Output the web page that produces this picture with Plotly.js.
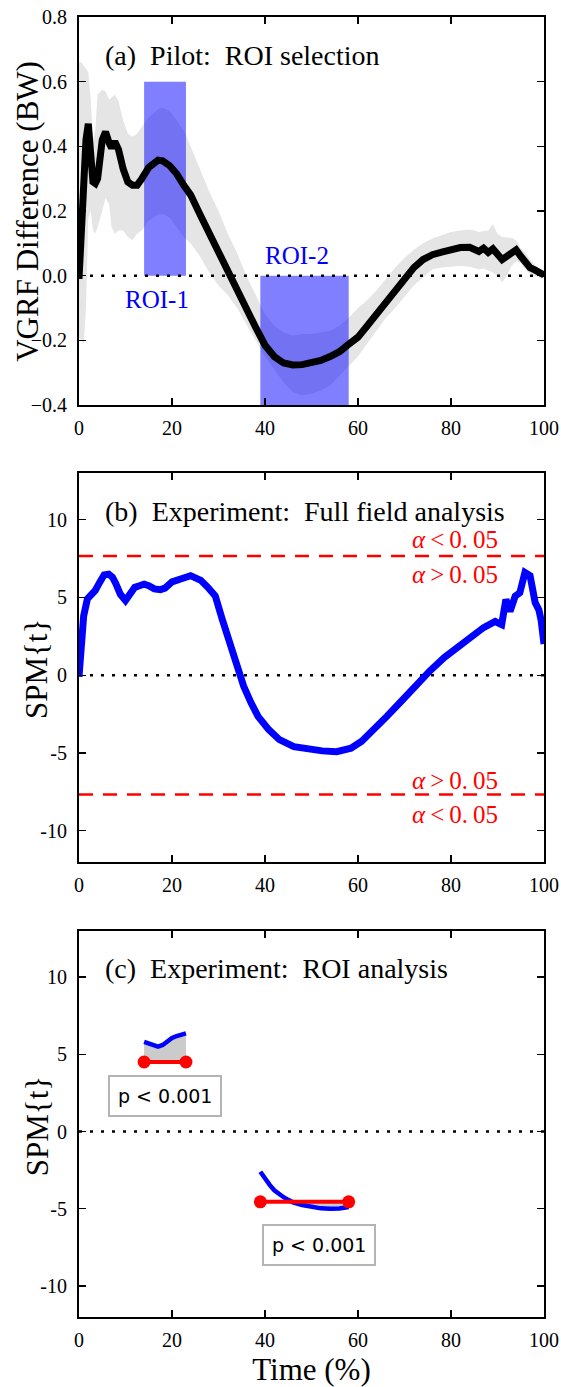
<!DOCTYPE html>
<html>
<head>
<meta charset="utf-8">
<script src="https://cdn.plot.ly/plotly-3.0.1.min.js"></script>
<style>html,body{margin:0;padding:0;background:#fff;}</style>
</head>
<body>
<div id="chart" style="width:561px;height:1387px;"></div>
<script>
// ---------- Panel (a): pilot mean VGRF difference ----------
const t_a = [0,0.5,1,1.5,2,2.5,3,3.5,4,5,5.7,6.5,7,7.7,8.5,9.5,10.5,11.5,12.5,13.5,15,17,18,19.5,21,22.5,24,26,28,30,32,34,36,38,40,42,44,46,48,50,52,54,56,58,60,62,64,66,68,70,72,74,76,78,80,82,84,85,86,87,88,89,90,91,92,93,94,95,96,97,98,99,100];
const mean_a = [-0.01,0.15,0.32,0.42,0.47,0.40,0.29,0.285,0.30,0.42,0.445,0.41,0.395,0.415,0.39,0.33,0.29,0.28,0.28,0.30,0.335,0.357,0.355,0.34,0.315,0.28,0.25,0.19,0.13,0.08,0.015,-0.04,-0.10,-0.16,-0.215,-0.25,-0.27,-0.276,-0.275,-0.27,-0.262,-0.25,-0.235,-0.212,-0.19,-0.155,-0.12,-0.085,-0.05,-0.01,0.025,0.05,0.065,0.073,0.082,0.087,0.088,0.082,0.075,0.085,0.072,0.083,0.07,0.05,0.06,0.068,0.08,0.06,0.04,0.025,0.018,0.01,0.002];
const upper_a = [0.66,0.66,0.65,0.64,0.63,0.55,0.42,0.45,0.56,0.575,0.57,0.545,0.55,0.56,0.54,0.48,0.44,0.43,0.44,0.46,0.49,0.515,0.52,0.51,0.48,0.45,0.40,0.33,0.26,0.20,0.13,0.07,0.0,-0.06,-0.12,-0.155,-0.175,-0.185,-0.18,-0.18,-0.175,-0.17,-0.155,-0.13,-0.10,-0.075,-0.045,-0.01,0.025,0.055,0.08,0.10,0.115,0.125,0.135,0.14,0.143,0.14,0.135,0.138,0.14,0.16,0.13,0.12,0.118,0.117,0.11,0.085,0.07,0.05,0.035,0.02,0.012];
const lower_a = [-0.19,-0.20,-0.21,-0.10,0.18,0.20,0.14,0.13,0.15,0.20,0.24,0.22,0.15,0.13,0.14,0.14,0.12,0.11,0.13,0.14,0.17,0.19,0.19,0.18,0.15,0.12,0.10,0.06,0.01,-0.03,-0.06,-0.10,-0.15,-0.20,-0.25,-0.29,-0.33,-0.36,-0.37,-0.365,-0.355,-0.34,-0.31,-0.28,-0.25,-0.21,-0.17,-0.13,-0.10,-0.065,-0.03,-0.005,0.02,0.025,0.028,0.03,0.028,0.025,0.02,0.022,0.015,0.01,0.0,-0.02,0.0,0.03,0.045,0.04,0.02,0.005,0.0,-0.005,-0.01];

// ROIs
const roi_names = ['ROI-1','ROI-2'];
const roi_start = [14, 39];
const roi_end = [23, 58];
const roi_lo = [0, -0.4];
const roi_hi = [0.6, 0];

// ---------- Panel (b): full-field SPM{t} ----------
const t_b = [0,0.5,1,1.8,2.5,3.5,4.5,5.4,6.4,7.2,7.9,8.9,10,11,12,13,14,15,16.2,17.5,18.5,20,21.5,23,24,25,26.2,27.7,29.3,30.8,32.3,33.9,35.4,37,38.5,40.8,43.1,46.2,49.3,52.3,55.4,57,58.5,60.8,63.1,66.2,69.3,72.3,75.4,78.5,81.6,84.6,87,89.5,90.9,91.8,92.7,93.8,94.8,95.9,97.0,98.1,98.9,99.4,100];
const spm_b = [-0.1,2.0,3.8,4.9,5.1,5.45,6.0,6.45,6.5,6.3,5.9,5.2,4.8,5.3,5.65,5.75,5.85,5.75,5.55,5.5,5.6,6.0,6.2,6.3,6.4,6.3,6.1,5.65,5.1,3.6,2.1,0.8,-0.7,-1.78,-2.65,-3.5,-4.15,-4.6,-4.75,-4.87,-4.92,-4.85,-4.7,-4.25,-3.5,-2.65,-1.68,-0.7,0.26,1.12,1.87,2.5,3.06,3.45,3.25,4.87,4.1,5.08,5.3,6.6,6.4,4.67,4.2,3.5,2.0];
const thr_b = 7.67;
const alpha_hi = '<i>α</i>\u2009<\u20090.\u200905';
const alpha_lo = '<i>α</i>\u2009>\u20090.\u200905';

// ---------- Panel (c): ROI SPM{t} ----------
const roi1_t = [14,15,16,17,18,19,20,21,22,23];
const roi1_spm = [5.8,5.7,5.55,5.5,5.6,5.85,6.05,6.18,6.25,6.35];
const roi2_t = [39,40,41,42,43,44,45,46,48,50,52,54,56,58];
const roi2_spm = [-2.6,-3.05,-3.45,-3.8,-4.05,-4.25,-4.42,-4.58,-4.75,-4.88,-4.97,-5.0,-4.98,-4.88];
const thr_c = [4.5, -4.55];
const p_text = ['p < 0.001', 'p < 0.001'];

const x_ticks = [0,20,40,60,80,100];
const spm_ticks = [-10,-5,0,5,10];
const spm_ticktext = ['-10','-5','0','5','10'];

const SERIF = 'Liberation Serif';
const traces = [];

// Panel (a)
traces.push({x:t_a, y:upper_a, xaxis:'x', yaxis:'y', mode:'lines', line:{width:0, color:'#e5e5e5'}, hoverinfo:'skip', showlegend:false});
traces.push({x:t_a, y:lower_a, xaxis:'x', yaxis:'y', mode:'lines', line:{width:0, color:'#e5e5e5'}, fill:'tonexty', fillcolor:'#e5e5e5', hoverinfo:'skip', showlegend:false});
for (let i=0;i<roi_start.length;i++){
  traces.push({x:[roi_start[i],roi_start[i],roi_end[i],roi_end[i],roi_start[i]],
               y:[roi_lo[i],roi_hi[i],roi_hi[i],roi_lo[i],roi_lo[i]],
               xaxis:'x', yaxis:'y', mode:'lines', line:{width:0}, fill:'toself',
               fillcolor:'rgba(0,0,255,0.5)', hoverinfo:'skip', showlegend:false});
}
traces.push({x:[0,100], y:[0,0], xaxis:'x', yaxis:'y', mode:'lines', line:{color:'black', width:2.5, dash:'3px,8px'}, showlegend:false});
traces.push({x:t_a, y:mean_a, xaxis:'x', yaxis:'y', mode:'lines', line:{color:'black', width:7}, showlegend:false});

// Panel (b)
traces.push({x:[0,100], y:[0,0], xaxis:'x2', yaxis:'y2', mode:'lines', line:{color:'black', width:2.5, dash:'3px,8px'}, showlegend:false});
traces.push({x:[0,100], y:[thr_b,thr_b], xaxis:'x2', yaxis:'y2', mode:'lines', line:{color:'#ff0000', width:2.5, dash:'14px,10px'}, showlegend:false});
traces.push({x:[0,100], y:[-thr_b,-thr_b], xaxis:'x2', yaxis:'y2', mode:'lines', line:{color:'#ff0000', width:2.5, dash:'14px,10px'}, showlegend:false});
traces.push({x:t_b, y:spm_b, xaxis:'x2', yaxis:'y2', mode:'lines', line:{color:'#0000ff', width:7}, showlegend:false});

// Panel (c)
traces.push({x:[0,100], y:[0,0], xaxis:'x3', yaxis:'y3', mode:'lines', line:{color:'black', width:2.5, dash:'3px,8px'}, showlegend:false});
const roiCurves = [[roi1_t, roi1_spm], [roi2_t, roi2_spm]];
roiCurves.forEach((c, i) => {
  const thr = thr_c[i];
  const clipped = c[1].map(v => i===0 ? Math.max(v, thr) : Math.min(v, thr));
  traces.push({x:c[0], y:c[0].map(()=>thr), xaxis:'x3', yaxis:'y3', mode:'lines', line:{width:0}, hoverinfo:'skip', showlegend:false});
  traces.push({x:c[0], y:clipped, xaxis:'x3', yaxis:'y3', mode:'lines', line:{width:0}, fill:'tonexty', fillcolor:'#cbcbcb', hoverinfo:'skip', showlegend:false});
  traces.push({x:c[0], y:c[1], xaxis:'x3', yaxis:'y3', mode:'lines', line:{color:'#0000ff', width:4.5}, showlegend:false});
  traces.push({x:[roi_start[i], roi_end[i]], y:[thr, thr], xaxis:'x3', yaxis:'y3', mode:'lines+markers',
               line:{color:'#ff0000', width:4}, marker:{color:'#ff0000', size:13}, showlegend:false});
});

function xax(domainAnchor, showTitle){
  const ax = {range:[0,100], tickvals:x_ticks, ticks:'inside', ticklen:7, tickwidth:1.3, tickcolor:'black',
    showline:true, linewidth:2, linecolor:'black', mirror:'ticks', showgrid:false, zeroline:false,
    tickfont:{family:SERIF, size:20, color:'black'}, ticklabelstandoff:4, anchor:domainAnchor};
  if (showTitle) ax.title = {text:'Time (%)', font:{family:SERIF, size:31, color:'black'}, standoff:8};
  return ax;
}
function yax(dom, rng, extra){
  return Object.assign({domain:dom, range:rng, ticks:'inside', ticklen:7, tickwidth:1.3, tickcolor:'black',
    showline:true, linewidth:2, linecolor:'black', mirror:'ticks', showgrid:false, zeroline:false,
    tickfont:{family:SERIF, size:20, color:'black'}, ticklabelstandoff:6}, extra);
}

const annotations = [
  {xref:'x domain', yref:'y domain', x:0.051, y:0.902, xanchor:'left', yanchor:'middle', showarrow:false,
   text:'(a)\u00a0\u00a0Pilot:\u00a0\u00a0ROI selection', font:{family:SERIF, size:28, color:'black'}},
  {xref:'x2 domain', yref:'y2 domain', x:0.051, y:0.900, xanchor:'left', yanchor:'middle', showarrow:false,
   text:'(b)\u00a0\u00a0Experiment:\u00a0\u00a0Full field analysis', font:{family:SERIF, size:28, color:'black'}},
  {xref:'x3 domain', yref:'y3 domain', x:0.051, y:0.903, xanchor:'left', yanchor:'middle', showarrow:false,
   text:'(c)\u00a0\u00a0Experiment:\u00a0\u00a0ROI analysis', font:{family:SERIF, size:28, color:'black'}},
  {xref:'x', yref:'y', x:16.8, y:-0.075, xanchor:'center', yanchor:'middle', showarrow:false, text:roi_names[0], font:{family:SERIF, size:25, color:'#0000ff'}},
  {xref:'x', yref:'y', x:46.9, y:0.064, xanchor:'center', yanchor:'middle', showarrow:false, text:roi_names[1], font:{family:SERIF, size:25, color:'#0000ff'}},
  {xref:'x2', yref:'y2', x:90.5, y:thr_b+1.08, xanchor:'right', yanchor:'middle', showarrow:false, text:alpha_hi, font:{family:SERIF, size:25, color:'#ff0000'}},
  {xref:'x2', yref:'y2', x:90.5, y:thr_b-1.2, xanchor:'right', yanchor:'middle', showarrow:false, text:alpha_lo, font:{family:SERIF, size:25, color:'#ff0000'}},
  {xref:'x2', yref:'y2', x:90.5, y:-thr_b+0.9, xanchor:'right', yanchor:'middle', showarrow:false, text:alpha_lo, font:{family:SERIF, size:25, color:'#ff0000'}},
  {xref:'x2', yref:'y2', x:90.5, y:-thr_b-1.28, xanchor:'right', yanchor:'middle', showarrow:false, text:alpha_hi, font:{family:SERIF, size:25, color:'#ff0000'}},
  {xref:'x3', yref:'y3', x:18.6, y:2.33, xanchor:'center', yanchor:'middle', showarrow:false, text:p_text[0], font:{family:'DejaVu Sans', size:19, color:'black'},
   bgcolor:'white', bordercolor:'#b4b4b4', borderwidth:2, borderpad:8},
  {xref:'x3', yref:'y3', x:51.7, y:-7.36, xanchor:'center', yanchor:'middle', showarrow:false, text:p_text[1], font:{family:'DejaVu Sans', size:19, color:'black'},
   bgcolor:'white', bordercolor:'#b4b4b4', borderwidth:2, borderpad:8},
  // y-axis titles
  {xref:'paper', yref:'paper', x:-0.110, y:0.8508, xanchor:'center', yanchor:'middle', textangle:-90, showarrow:false, text:'VGRF Difference (BW)',
   font:{family:SERIF, size:31, color:'black'}},
  {xref:'paper', yref:'paper', x:-0.090, y:0.4985, xanchor:'center', yanchor:'middle', textangle:-90, showarrow:false, text:'SPM{t}',
   font:{family:SERIF, size:31, color:'black'}},
  {xref:'paper', yref:'paper', x:-0.090, y:0.1469, xanchor:'center', yanchor:'middle', textangle:-90, showarrow:false, text:'SPM{t}',
   font:{family:SERIF, size:31, color:'black'}}
];

const layout = {
  width:561, height:1387,
  margin:{l:79, r:17, t:17, b:70},
  paper_bgcolor:'white', plot_bgcolor:'white',
  showlegend:false,
  font:{family:SERIF, color:'black'},
  xaxis: xax('y', false),
  xaxis2: xax('y2', false),
  xaxis3: xax('y3', true),
  yaxis: yax([0.7015,1], [-0.4,0.8], {tickvals:[-0.4,-0.2,0,0.2,0.4,0.6,0.8], tickformat:'.1f', anchor:'x'}),
  yaxis2: yax([0.3502,0.6492], [-12,13], {tickvals:spm_ticks, ticktext:spm_ticktext, anchor:'x2'}),
  yaxis3: yax([0,0.2972], [-12,13], {tickvals:spm_ticks, ticktext:spm_ticktext, anchor:'x3'}),
  annotations: annotations
};

Plotly.newPlot('chart', traces, layout, {displayModeBar:false, staticPlot:true});
</script>
</body>
</html>
